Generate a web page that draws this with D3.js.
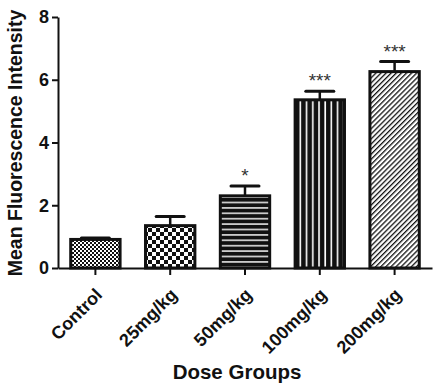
<!DOCTYPE html>
<html><head><meta charset="utf-8">
<script src="https://cdn.jsdelivr.net/npm/d3@7"></script>
<style>body{margin:0;background:#fff}svg{display:block}</style>
</head><body>
<script>
const categories = ["Control", "25mg/kg", "50mg/kg", "100mg/kg", "200mg/kg"];
const means = [0.91, 1.35, 2.30, 5.36, 6.26];
const errors = [0.05, 0.29, 0.31, 0.27, 0.32];
const signif = ["", "", "*", "***", "***"];
const patterns = ["pFine", "pCheck", "pHoriz", "pVert", "pDiag"];
const yTicks = [0, 2, 4, 6, 8];

const FONT = "Liberation Sans, Arial, Helvetica, sans-serif";
const W = 438, H = 389;
const svg = d3.select("body").append("svg").attr("width", W).attr("height", H);
const defs = svg.append("defs");

let p = defs.append("pattern").attr("id","pFine").attr("patternUnits","userSpaceOnUse").attr("width",4).attr("height",4);
p.append("rect").attr("width",4).attr("height",4).attr("fill","#fff");
p.append("rect").attr("width",2).attr("height",2).attr("fill","#111");
p.append("rect").attr("x",2).attr("y",2).attr("width",2).attr("height",2).attr("fill","#111");
p = defs.append("pattern").attr("id","pCheck").attr("patternUnits","userSpaceOnUse").attr("width",8).attr("height",8);
p.append("rect").attr("width",8).attr("height",8).attr("fill","#fff");
p.append("rect").attr("width",4).attr("height",4).attr("fill","#111");
p.append("rect").attr("x",4).attr("y",4).attr("width",4).attr("height",4).attr("fill","#111");
p = defs.append("pattern").attr("id","pHoriz").attr("patternUnits","userSpaceOnUse").attr("width",6).attr("height",5.4);
p.append("rect").attr("width",6).attr("height",5.4).attr("fill","#111");
p.append("rect").attr("y",2).attr("width",6).attr("height",1.4).attr("fill","#fff");
p = defs.append("pattern").attr("id","pVert").attr("patternUnits","userSpaceOnUse").attr("width",6.2).attr("height",6);
p.append("rect").attr("width",6.2).attr("height",6).attr("fill","#111");
p.append("rect").attr("x",2).attr("width",1.6).attr("height",6).attr("fill","#fff");
p = defs.append("pattern").attr("id","pDiag").attr("patternUnits","userSpaceOnUse").attr("width",3.6).attr("height",3.6)
  .attr("patternTransform","rotate(45)");
p.append("rect").attr("width",3.6).attr("height",3.6).attr("fill","#fff");
p.append("rect").attr("width",1.3).attr("height",3.6).attr("fill","#111");

const x = d3.scaleBand().domain(categories).range([58, 432]).paddingInner(0.3).paddingOuter(0.15);
const y = d3.scaleLinear().domain([0, 8]).range([268, 17]);

const data = categories.map((c,i)=>({c, m:means[i], e:errors[i], s:signif[i], p:patterns[i]}));

const eg = svg.append("g");
data.forEach(d=>{
  const cx = x(d.c) + x.bandwidth()/2;
  eg.append("line").attr("x1",cx).attr("x2",cx).attr("y1",y(d.m)).attr("y2",y(d.m+d.e))
    .attr("stroke","#111").attr("stroke-width",2.5);
  eg.append("line").attr("x1",cx-14).attr("x2",cx+14).attr("y1",y(d.m+d.e)).attr("y2",y(d.m+d.e))
    .attr("stroke","#111").attr("stroke-width",3).attr("stroke-linecap","round");
});

svg.append("g").selectAll("rect").data(data).join("rect")
  .attr("x", d=>x(d.c)+1.5).attr("width", x.bandwidth()-3)
  .attr("y", d=>y(d.m)).attr("height", d=>y(0)-y(d.m))
  .attr("fill", d=>`url(#${d.p})`).attr("stroke","#111").attr("stroke-width",3);

svg.append("g").selectAll("text").data(data.filter(d=>d.s)).join("text")
  .attr("x", d=>x(d.c)+x.bandwidth()/2).attr("y", d=>y(d.m+d.e)-4)
  .attr("text-anchor","middle").attr("font-family",FONT)
  .attr("font-size",19).attr("fill","#333").text(d=>d.s);

const ya = svg.append("g").attr("transform","translate(58,0)")
  .call(d3.axisLeft(y).tickValues(yTicks).tickSize(6).tickSizeOuter(0).tickPadding(3));
ya.select(".domain").attr("stroke","#111").attr("stroke-width",2);
ya.selectAll(".tick line").attr("stroke","#111").attr("stroke-width",2);
ya.selectAll(".tick text").attr("font-family",FONT)
  .attr("font-size",18).attr("font-weight","bold").attr("fill","#111");

const xa = svg.append("g").attr("transform","translate(0,268)")
  .call(d3.axisBottom(x).tickSize(7).tickSizeOuter(0));
xa.select(".domain").attr("stroke","#111").attr("stroke-width",2);
xa.selectAll(".tick line").attr("stroke","#111").attr("stroke-width",2);
xa.selectAll(".tick text").attr("font-family",FONT)
  .attr("font-size",18).attr("font-weight","bold").attr("fill","#111")
  .attr("text-anchor","end").attr("dy",0).attr("y",0)
  .attr("transform","translate(8,28) rotate(-45)");

svg.append("text").attr("transform","translate(22,143) rotate(-90)").attr("text-anchor","middle")
  .attr("font-family",FONT).attr("font-size",19.5).attr("font-weight","bold")
  .attr("fill","#111").text("Mean Fluorescence Intensity");
svg.append("text").attr("x",237).attr("y",379).attr("text-anchor","middle")
  .attr("font-family",FONT).attr("font-size",20.5).attr("font-weight","bold")
  .attr("fill","#111").text("Dose Groups");
</script>
</body></html>
